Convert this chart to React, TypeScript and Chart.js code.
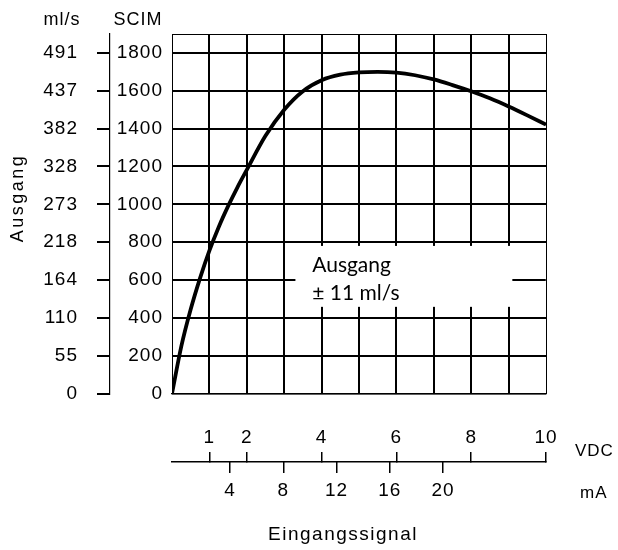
import React, { useEffect, useRef } from 'react';
import { Chart, registerables } from 'chart.js';

Chart.register(...registerables);

// ---- data ----
const SIGNAL_VDC = [0, 0.25, 0.5, 0.75, 1, 1.25, 1.5, 1.75, 2, 2.5, 3, 3.5, 4, 4.5, 5, 5.5, 6, 6.5, 7, 7.5, 8, 8.5, 9, 9.5, 10];
const OUTPUT_SCIM = [0, 250, 445, 610, 755, 880, 990, 1090, 1182, 1362, 1500, 1598, 1656, 1685, 1697, 1700, 1696, 1682, 1660, 1630, 1597, 1560, 1517, 1470, 1421];

const SCIM_TICKS = [0, 200, 400, 600, 800, 1000, 1200, 1400, 1600, 1800];
const MLS_TICK_LABELS = ['0', '55', '110', '164', '218', '273', '328', '382', '437', '491'];
const VDC_TICKS = [1, 2, 4, 6, 8, 10];
const MA_TICKS = [4, 8, 12, 16, 20];
const GRID_X_TICKS = [0, 1, 2, 3, 4, 5, 6, 7, 8, 9, 10];

const VDC_RANGE = [0, 10];
const MA_RANGE = [-0.36, 27.74];
const SCIM_RANGE = [0, 1900];

const ANNOTATION_LINES = ['Ausgang', '\u00B1 11 ml/s'];
// annotation box in data units (VDC, SCIM)
const ANNOTATION_BOX = { x0: 3.3, x1: 10, yTop: 780, yBottom: 458, textX: 3.75 };
const ANNOTATION_GRID_PIECE = { x0: 9.1, x1: 10, y: 600 };

const FONT = "'Liberation Sans', Arial, sans-serif";
const SIZE = 19;

const decor = {
  id: 'decor',
  beforeDraw(chart: any) {
    chart.ctx.letterSpacing = '1px';
  },
  beforeDatasetsDraw(chart: any) {
    const { ctx } = chart;
    const x = chart.scales.x;
    const y = chart.scales.y;
    const l = x.getPixelForValue(ANNOTATION_BOX.x0);
    const r = x.getPixelForValue(ANNOTATION_BOX.x1) - 0.6;
    const t = y.getPixelForValue(ANNOTATION_BOX.yTop);
    const b = y.getPixelForValue(ANNOTATION_BOX.yBottom);
    ctx.save();
    ctx.fillStyle = '#fff';
    ctx.fillRect(l, t, r - l, b - t);
    ctx.strokeStyle = '#000';
    ctx.lineWidth = 2;
    const gy = y.getPixelForValue(ANNOTATION_GRID_PIECE.y);
    ctx.beginPath();
    ctx.moveTo(x.getPixelForValue(ANNOTATION_GRID_PIECE.x0), gy);
    ctx.lineTo(r, gy);
    ctx.stroke();
    ctx.letterSpacing = '0px';
    ctx.font = '21px Lato, "Open Sans", sans-serif';
    ctx.fillStyle = '#000';
    ctx.textAlign = 'left';
    ctx.textBaseline = 'alphabetic';
    const tx = x.getPixelForValue(ANNOTATION_BOX.textX);
    ctx.fillText(ANNOTATION_LINES[0], tx, t + 26);
    ctx.fillText(ANNOTATION_LINES[1], tx, t + 54);
    ctx.restore();
  },
  afterDraw(chart: any) {
    const { ctx, chartArea } = chart;
    ctx.save();
    // top border
    ctx.strokeStyle = '#000';
    ctx.lineWidth = 1;
    ctx.beginPath();
    ctx.moveTo(chartArea.left, chartArea.top + 0.5);
    ctx.lineTo(chartArea.right, chartArea.top + 0.5);
    ctx.stroke();

    ctx.fillStyle = '#000';
    ctx.textBaseline = 'middle';
    ctx.letterSpacing = '1px';
    ctx.font = `18px ${FONT}`;
    ctx.textAlign = 'center';
    ctx.fillText('ml/s', 62, 20);
    ctx.fillText('SCIM', 138, 20);
    ctx.textAlign = 'left';
    ctx.font = `17px ${FONT}`;
    ctx.fillText('VDC', 575, 451);
    ctx.fillText('mA', 580, 493);
    ctx.textAlign = 'center';
    ctx.font = `${SIZE}px ${FONT}`;
    ctx.letterSpacing = '1.5px';
    ctx.fillText('Eingangssignal', 343, 535);

    ctx.translate(18, 198);
    ctx.rotate(-Math.PI / 2);
    ctx.letterSpacing = '2.5px';
    ctx.font = `18px ${FONT}`;
    ctx.fillText('Ausgang', 0, 0);
    ctx.restore();
  },
};

export default function App() {
  const ref = useRef<HTMLCanvasElement>(null);

  useEffect(() => {
    document.body.style.margin = '0';
    const canvas = ref.current!;
    const tickFont = { family: FONT, size: SIZE };
    const chart = new Chart(canvas, {
      type: 'line',
      data: {
        datasets: [
          {
            data: SIGNAL_VDC.map((v, i) => ({ x: v, y: OUTPUT_SCIM[i] })),
            borderColor: '#000',
            borderWidth: 3.8,
            pointRadius: 0,
            fill: false,
            cubicInterpolationMode: 'monotone',
            xAxisID: 'x',
            yAxisID: 'y',
          },
        ],
      },
      plugins: [decor],
      options: {
        animation: false,
        responsive: false,
        maintainAspectRatio: false,
        layout: { padding: { top: 34, left: 0, right: 72, bottom: 38 } },
        plugins: { legend: { display: false }, tooltip: { enabled: false } },
        scales: {
          x: {
            type: 'linear',
            position: 'bottom',
            weight: 0,
            min: VDC_RANGE[0],
            max: VDC_RANGE[1],
            afterBuildTicks: (s: any) => {
              s.ticks = GRID_X_TICKS.map((v) => ({ value: v }));
            },
            ticks: { display: false },
            grid: {
              color: '#000',
              lineWidth: (c: any) => (c.tick && (c.tick.value === 0 || c.tick.value === 10) ? 1 : 2),
              drawTicks: false,
            },
            border: { display: true, color: '#000', width: 1.2 },
            afterFit: (s: any) => {
              s.height = 68.5;
            },
          },
          vdc: {
            type: 'linear',
            position: 'bottom',
            weight: 1,
            min: VDC_RANGE[0],
            max: VDC_RANGE[1],
            afterBuildTicks: (s: any) => {
              s.ticks = VDC_TICKS.map((v) => ({ value: v }));
            },
            ticks: {
              mirror: true,
              padding: 13,
              font: tickFont,
              color: '#000',
              maxRotation: 0,
              autoSkip: false,
              callback: (v: any) => String(v),
            },
            grid: {
              drawOnChartArea: false,
              drawTicks: true,
              tickLength: -10,
              color: '#000',
              lineWidth: 1.5,
            },
            border: { display: true, color: '#000', width: 1.5 },
            afterFit: (s: any) => {
              s.height = 0;
            },
          },
          ma: {
            type: 'linear',
            position: 'bottom',
            weight: 2,
            min: MA_RANGE[0],
            max: MA_RANGE[1],
            afterBuildTicks: (s: any) => {
              s.ticks = MA_TICKS.map((v) => ({ value: v }));
            },
            ticks: {
              padding: 6,
              font: tickFont,
              color: '#000',
              maxRotation: 0,
              autoSkip: false,
              callback: (v: any) => String(v),
            },
            grid: {
              drawOnChartArea: false,
              drawTicks: true,
              tickLength: 11,
              color: '#000',
              lineWidth: 1.5,
            },
            border: { display: false },
            afterFit: (s: any) => {
              s.height = 50;
            },
          },
          y: {
            type: 'linear',
            position: 'left',
            weight: 0,
            min: SCIM_RANGE[0],
            max: SCIM_RANGE[1],
            afterBuildTicks: (s: any) => {
              s.ticks = SCIM_TICKS.map((v) => ({ value: v }));
            },
            ticks: {
              font: tickFont,
              color: '#000',
              padding: 9,
              autoSkip: false,
              callback: (v: any) => String(v),
            },
            grid: {
              color: '#000',
              lineWidth: (c: any) => (c.tick && c.tick.value === 0 ? 1.5 : 2),
              drawTicks: false,
            },
            border: { display: true, color: '#000', width: 1 },
            afterFit: (s: any) => {
              s.width = 62;
            },
          },
          mls: {
            type: 'linear',
            position: 'left',
            weight: 1,
            min: SCIM_RANGE[0],
            max: SCIM_RANGE[1],
            afterBuildTicks: (s: any) => {
              s.ticks = SCIM_TICKS.map((v) => ({ value: v }));
            },
            ticks: {
              font: tickFont,
              color: '#000',
              padding: 19,
              autoSkip: false,
              callback: (_v: any, i: number) => MLS_TICK_LABELS[i],
            },
            grid: {
              drawOnChartArea: false,
              drawTicks: true,
              tickLength: 13,
              color: '#000',
              lineWidth: 2,
            },
            border: { display: true, color: '#000', width: 1.2 },
            afterFit: (s: any) => {
              s.width = 110;
            },
          },
        },
      } as any,
    });
    return () => chart.destroy();
  }, []);

  return (
    <div style={{ width: 618, height: 550, background: '#fff' }}>
      <canvas ref={ref} width={618} height={550} style={{ display: 'block', width: 618, height: 550 }} />
    </div>
  );
}
